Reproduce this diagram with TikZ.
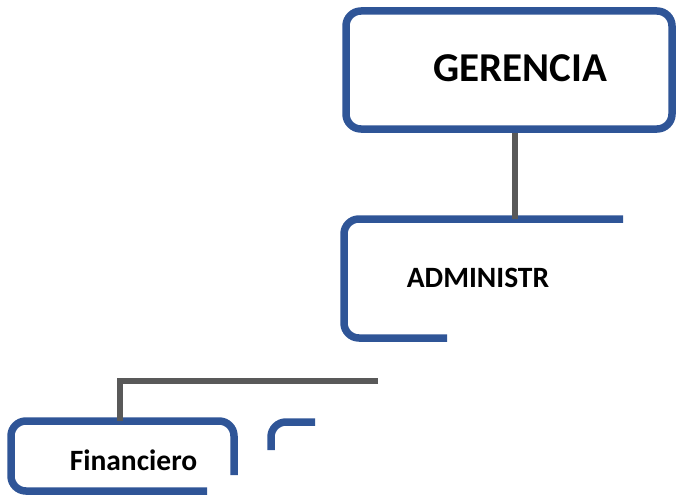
\documentclass[tikz,border=0pt]{standalone}
\usepackage{fontspec}
\setmainfont{Carlito}
\definecolor{boxblue}{HTML}{2F5597}
\definecolor{linkgray}{HTML}{595959}
\tikzset{
  boxline/.style={draw=boxblue, line width=7.5pt, rounded corners=15pt},
  mainbox/.style={boxline, minimum width=326pt, minimum height=118pt, inner sep=0pt,
    font=\bfseries\fontsize{41}{45}\selectfont},
  link/.style={draw=linkgray, line width=6.5pt},
  unitname/.style={font=\bfseries\fontsize{29.5}{33}\selectfont, anchor=base, inner sep=0pt}
}
\begin{document}
\begin{tikzpicture}[x=1pt,y=-1pt]
      \useasboundingbox (0,0) rectangle (676,495);
      % top box
      \node[mainbox] (ger) at (509,70) {\hspace*{23pt}\raisebox{3pt}{GERENCIA}};
      % units
      \node[unitname] (admin) at (478,287) {ADMINISTR};
      \node[unitname] (fin) at (133.5,470) {Financiero};
      % where the links meet the boxes
      \coordinate (admintop) at (515,219);
      \coordinate (fintop) at (120,421);
      \coordinate (branch) at (378,381);
      % box outlines, cut off as in the picture
      \begin{scope}[boxline]
        \draw (623,219) -- (344,219) -- (344,338) -- (447,338);
        \draw (207,491) -- (11,491) -- (11,421) -- (234,421) -- (234,475);
        \draw (315,422) -- (271,422) -- (271,450);
      \end{scope}
      % links
      \begin{scope}[link]
        \draw (ger.south -| admintop) to (admintop);
        \draw (branch) -| (fintop);
      \end{scope}
    \end{tikzpicture}
\end{document}
